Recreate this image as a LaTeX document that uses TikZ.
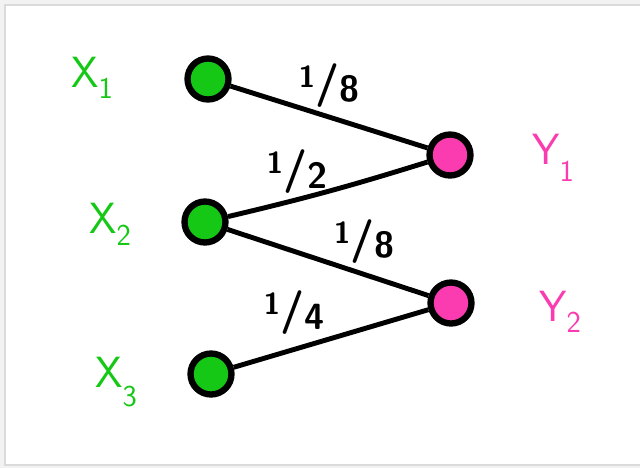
\documentclass[tikz,border=0pt]{standalone}
\usepackage{tikz}
\usetikzlibrary{positioning}
\definecolor{gruen}{HTML}{16C816}
\definecolor{rosa}{HTML}{FA3CB0}
\definecolor{rahmen}{HTML}{DADADA}
\definecolor{aussen}{HTML}{F2F2F2}
\newcommand{\tief}[2]{\raisebox{#1}{\LARGE #2}}
\tikzset{
  knotx/.style={circle,fill=gruen,draw=black,line width=3.6pt,minimum size=0.82cm,inner sep=0pt},
  knoty/.style={knotx,fill=rosa},
  kante/.style={black,line width=2.8pt},
  namex/.style={gruen,font=\Huge\sffamily,inner sep=0pt},
  namey/.style={rosa,font=\Huge\sffamily,inner sep=0pt},
  bruch/.style={black,font=\Huge\sffamily\bfseries,inner sep=1pt},
}
\newcommand{\teil}[2]{\raisebox{5pt}{\LARGE #1}/\raisebox{-3pt}{\huge #2}}

\begin{document}
\begin{tikzpicture}[x=0.02cm,y=-0.02cm]
  \useasboundingbox (0,0) rectangle (640,468);
  \fill[aussen] (0,0) rectangle (640,468);
  \draw[rahmen,fill=white,line width=1.5pt] (5,5) rectangle (650,465);
  % knoten
  \node[knotx] (x1) at (208,79) {};
  \node[knotx] (x2) at (205,222) {};
  \node[knotx] (x3) at (211,374) {};
  \node[knoty] (y1) at (450,155) {};
  \node[knoty] (y2) at (451,303) {};
  % namen
  \node[namex] (nx1) at (92,78) {X\tief{-6pt}{1}};
  \node[namex] (nx2) at (110,224) {X\tief{-7pt}{2}};
  \node[namex] (nx3) at (116,382) {X\tief{-11pt}{3}};
  \node[namey] (ny1) at (553,158) {Y\tief{-10pt}{1}};
  \node[namey] (ny2) at (560,312) {Y\tief{-6pt}{2}};
  % kanten
  \draw[kante] (x1) -- node[bruch,pos=0.5,above=3pt] {\teil{1}{8}} (y1);
  \draw[kante] (x2) to[bend right=2] node[bruch,pos=0.33,above=1pt] {\teil{1}{2}} (y1);
  \draw[kante] (x2) -- node[bruch,pos=0.68,above=4pt] {\teil{1}{8}} (y2);
  \draw[kante] (x3) -- node[bruch,pos=0.31,above=6pt] {\teil{1}{4}} (y2);
\end{tikzpicture}
\end{document}
